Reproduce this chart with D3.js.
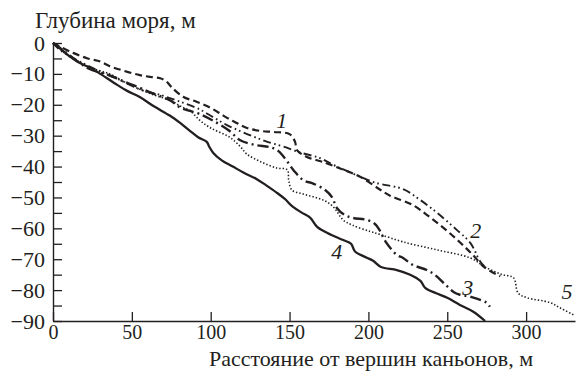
<!DOCTYPE html>
<html>
<head>
<meta charset="utf-8">
<script src="https://cdn.jsdelivr.net/npm/d3@7"></script>
<style>
  body { margin: 0; background: #fff; }
  svg text { font-family: "Liberation Serif", "DejaVu Serif", "Times New Roman", serif; }
</style>
</head>
<body>
<script>
// distance (m), depth (m)
const curve1 = [[0,0],[3,-0.8],[12.7,-3.2],[22,-5],[30,-6],[36,-7.5],[45,-9],[55,-10.4],[62,-11],[68,-11.4],[72,-12.5],[75,-14.2],[82.5,-17.4],[91,-19],[100,-21],[108,-23.5],[115,-25.5],[123,-27.5],[132,-28.5],[140,-28.8],[150,-29.5],[153.5,-32],[154.6,-34.6],[161,-36.9],[171,-38.5],[184,-41],[195,-43.4],[207.5,-47.5],[214,-49.5],[228,-52.4],[238,-56],[248,-60],[258,-64.5],[266,-68.5],[274,-72.8],[283.6,-75.5]];
const curve2 = [[0,0],[4.5,-2.3],[17,-6],[30,-9.3],[42.5,-12],[55,-15],[68,-16.8],[80.6,-19],[93,-21.5],[101.5,-24],[110,-26.5],[118.7,-28.5],[128,-30.5],[136,-32],[146,-33.5],[157,-35.5],[169,-37.2],[180,-40],[195,-43.3],[205,-45.3],[222,-47.3],[232,-50.5],[243.6,-55],[256,-60.5],[264.6,-64.7],[271,-70.8],[275,-73]];
const curve3 = [[0,0],[8,-3],[17,-6.5],[23.5,-8.5],[36,-10.5],[45,-12.5],[55,-14.5],[61.5,-16],[74,-18.5],[81,-21],[87,-22],[93,-23],[101,-25],[112,-28.5],[118.7,-31.5],[128,-33],[138,-33.8],[143,-35],[148,-38],[153,-41.5],[159,-44.5],[165,-45.5],[172.6,-47.6],[177,-50],[180,-53.4],[185,-55.7],[190,-56.6],[199,-57.3],[204,-58.5],[207,-60.5],[211,-64.4],[218,-68.6],[222,-69.6],[228,-71.8],[237,-73.5],[242,-75],[249,-78.3],[254,-80.6],[258,-81.5],[265,-82.2],[275,-84.1],[277,-85.4]];
const curve4 = [[0,0],[5,-2],[11,-4.5],[17,-6.5],[23.5,-8],[30,-10],[39,-13],[47,-15.5],[55,-17.5],[64,-20.5],[74,-23.5],[81,-26],[87,-28.5],[92,-30.5],[97.5,-32],[99,-33.5],[101.5,-35.5],[107,-38],[114,-40],[121,-42],[129,-44],[135,-46],[142,-48.5],[147,-50.5],[152,-53],[158,-55],[163,-56.5],[167.5,-59.5],[174,-61.5],[184,-63.8],[189,-65],[191.5,-67.5],[199,-69.5],[203,-70.5],[208,-72.5],[218,-73.5],[226.5,-75],[233,-77],[236,-79.3],[243,-81],[250,-82.5],[258,-84.8],[266.5,-87],[274,-90]];
const curve5 = [[0,0],[9,-3.9],[16,-6],[23.5,-8],[36,-10],[45,-12.5],[55,-15],[65,-17],[74,-18.5],[81,-20.5],[87,-22],[93,-25],[100,-27.5],[112,-30.5],[118.7,-33.5],[123,-36],[132,-38.5],[142,-40.5],[148.5,-41],[149.5,-44.5],[151.5,-47.6],[158,-48.8],[165,-49.8],[172,-51],[177.7,-53],[184,-57.3],[190,-59],[201,-61],[207.5,-62],[222,-64.4],[243.6,-67],[264.6,-69.6],[275,-72.8],[285,-75],[292,-76],[295,-81],[300.8,-82.5],[315,-84],[321.7,-85.8],[330,-88]];

const curveNames = ['1', '2', '3', '4', '5'];
// where each curve number is written: [distance, depth]
const labelPos = [[145,-27.5],[268,-63],[263,-81.5],[180,-70],[326,-83]];

const xTicks = [0, 50, 100, 150, 200, 250, 300];
const yTicks = [0, -10, -20, -30, -40, -50, -60, -70, -80, -90];
const yMinorTicks = [-5, -15, -25, -35, -45, -55, -65, -75, -85];

const width = 576;
const height = 371;
const ink = '#231f20';

const x = d3.scaleLinear().domain([0, 331]).range([53, 575]);
const y = d3.scaleLinear().domain([-90, 0]).range([321, 43]);

const svg = d3
  .select('body')
  .append('svg')
  .attr('width', width)
  .attr('height', height)
  .attr('viewBox', [0, 0, width, height]);

// x-axis, ticks point up into the plot
svg
  .append('g')
  .attr('transform', `translate(0,${y(-90)})`)
  .call(d3.axisBottom(x).tickValues(xTicks).tickSize(-9).tickSizeOuter(0).tickPadding(4).tickFormat(d3.format('d')))
  .attr('font-size', 20)
  .call((g) => g.select('.domain').attr('stroke', ink).attr('stroke-width', 1.4))
  .call((g) => g.selectAll('.tick line').attr('stroke', ink).attr('stroke-width', 1.3))
  .call((g) => g.selectAll('.tick text').attr('fill', ink));

// y-axis, major ticks with labels
svg
  .append('g')
  .attr('transform', `translate(${x(0)},0)`)
  .call(d3.axisLeft(y).tickValues(yTicks).tickSize(-9).tickSizeOuter(0).tickPadding(8))
  .attr('font-size', 22)
  .call((g) => g.select('.domain').attr('stroke', ink).attr('stroke-width', 1.4))
  .call((g) => g.selectAll('.tick line').attr('stroke', ink).attr('stroke-width', 1.3))
  .call((g) => g.selectAll('.tick text').attr('fill', ink));

// minor ticks
svg
  .append('g')
  .attr('transform', `translate(${x(0)},0)`)
  .call(d3.axisLeft(y).tickValues(yMinorTicks).tickSize(-9).tickSizeOuter(0).tickFormat(''))
  .call((g) => g.select('.domain').remove())
  .call((g) => g.selectAll('.tick line').attr('stroke', ink).attr('stroke-width', 1.3));

// axis titles
svg
  .append('text')
  .attr('x', 35)
  .attr('y', 28)
  .attr('fill', ink)
  .attr('font-size', 23)
  .text('Глубина моря, м');

svg
  .append('text')
  .attr('x', 371)
  .attr('y', 366)
  .attr('text-anchor', 'middle')
  .attr('fill', ink)
  .attr('font-size', 22)
  .text('Расстояние от вершин каньонов, м');

const line = d3
  .line()
  .x((d) => x(d[0]))
  .y((d) => y(d[1]))
  .curve(d3.curveCatmullRom.alpha(0.5));

const curves = [
  { data: curve1, dash: '7,4', w: 2.2 },
  { data: curve2, dash: '8,3.5,1.6,3,1.6,3.5', w: 1.9 },
  { data: curve3, dash: '11,4,2,4', w: 2.4 },
  { data: curve4, dash: null, w: 2.3 },
  { data: curve5, dash: '1.4,2', w: 1.6 },
];

for (let c of curves) {
  svg
    .append('path')
    .attr('fill', 'none')
    .attr('stroke', ink)
    .attr('stroke-width', c.w)
    .attr('stroke-dasharray', c.dash)
    .attr('stroke-linejoin', 'round')
    .attr('d', line(c.data));
}

// curve numbers
svg
  .append('g')
  .selectAll('text')
  .data(labelPos)
  .join('text')
  .attr('x', (d) => x(d[0]))
  .attr('y', (d) => y(d[1]))
  .attr('text-anchor', 'middle')
  .attr('fill', ink)
  .attr('font-size', 22)
  .attr('font-style', 'italic')
  .text((d, i) => curveNames[i]);
</script>
</body>
</html>
